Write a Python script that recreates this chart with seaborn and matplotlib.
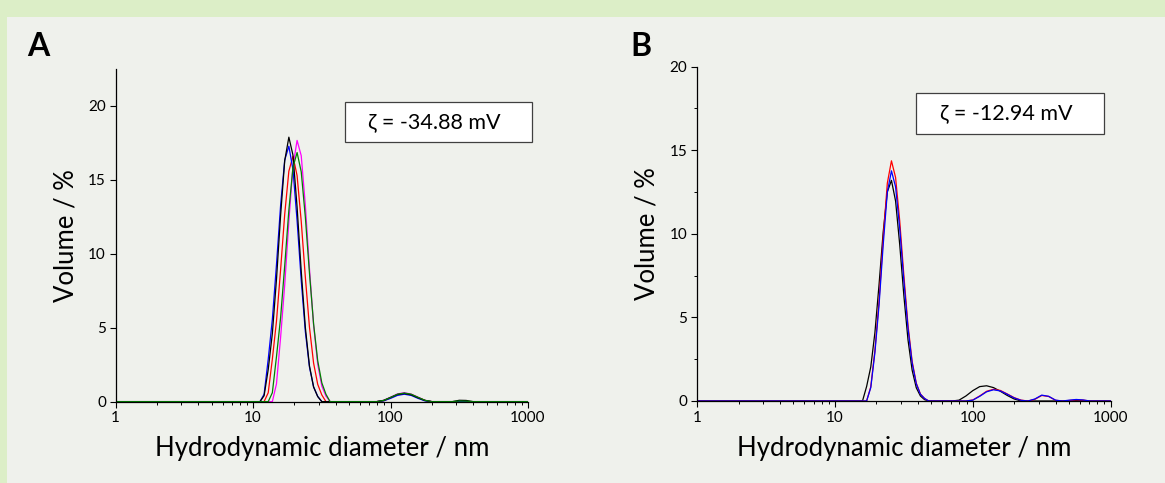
import matplotlib
matplotlib.use('Agg')
import matplotlib.pyplot as plt
from matplotlib.patches import Rectangle
from matplotlib.ticker import FixedLocator, NullFormatter, MultipleLocator
import seaborn as sns
import pandas as pd

# Panel A: diametros (nm) y volumen (%) por medida
DIAM_A = [1, 11.22, 12.02, 12.88, 13.80, 14.79, 15.85, 16.98, 18.20, 19.50, 20.89,
          22.39, 23.99, 25.70, 27.54, 29.51, 31.62, 33.88, 36.31,
          79.43, 89.13, 100.0, 112.2, 125.9, 141.3, 158.5, 177.8, 199.5,
          281.8, 316.2, 354.8, 398.1, 1000]
NEGRO_A = [0, 0, 0.40, 2.17, 4.60, 8.26, 12.60, 16.30, 17.89, 16.67, 13.17,
           8.83, 5.02, 2.42, 0.99, 0.34, 0, 0, 0,
           0, 0.08, 0.28, 0.48, 0.55, 0.46, 0.26, 0.08, 0,
           0, 0.09, 0.08, 0, 0]
AZUL_A = [0, 0, 0.50, 2.87, 5.56, 9.27, 13.28, 16.34, 17.28, 15.69, 12.25,
          8.21, 4.73, 2.34, 1.00, 0.36, 0, 0, 0,
          0, 0.05, 0.22, 0.42, 0.50, 0.42, 0.22, 0.05, 0,
          0, 0, 0, 0, 0]
ROJO_A = [0, 0, 0, 0.60, 2.87, 5.44, 8.93, 12.68, 15.59, 16.60, 15.29,
          12.20, 8.42, 5.04, 2.61, 1.17, 0.45, 0, 0,
          0, 0.06, 0.25, 0.46, 0.55, 0.47, 0.27, 0.08, 0,
          0, 0, 0, 0, 0]
VERDE_A = [0, 0, 0, 0, 0.60, 3.04, 5.68, 9.20, 12.95, 15.85, 16.85,
           15.55, 12.48, 8.70, 5.27, 2.77, 1.27, 0.50, 0,
           0, 0.08, 0.28, 0.50, 0.58, 0.50, 0.29, 0.09, 0,
           0, 0.04, 0.03, 0, 0]
MAGENTA_A = [0, 0, 0, 0, 0, 1.20, 4.35, 7.90, 12.18, 15.93, 17.67,
             16.64, 13.29, 9.01, 5.18, 2.53, 1.05, 0.37, 0,
             0, 0.09, 0.30, 0.52, 0.60, 0.51, 0.30, 0.09, 0,
             0, 0, 0, 0, 0]

# Panel B
DIAM_B = [1, 15.85, 16.98, 18.20, 19.50, 20.89, 22.39, 23.99, 25.70, 27.54, 29.51,
          31.62, 33.88, 36.31, 38.90, 41.69, 44.67, 47.86,
          70.79, 79.43, 89.13, 100.0, 112.2, 125.9, 141.3, 158.5, 177.8, 199.5, 223.9,
          251.2, 281.8, 316.2, 354.8, 398.1, 446.7,
          501.2, 562.3, 631.0, 707.9, 1000]
NEGRO_B = [0, 0, 0.87, 2.04, 4.09, 6.96, 10.11, 12.51, 13.20, 11.96, 9.35,
           6.30, 3.66, 1.84, 0.79, 0.30, 0.08, 0,
           0, 0.05, 0.30, 0.62, 0.86, 0.91, 0.80, 0.58, 0.33, 0.12, 0,
           0, 0, 0, 0, 0, 0,
           0, 0.04, 0.03, 0, 0]
ROJO_B = [0, 0, 0, 0.85, 3.03, 5.98, 9.74, 13.03, 14.37, 13.37, 10.77,
          7.51, 4.53, 2.37, 1.07, 0.42, 0.15, 0,
          0, 0, 0, 0.06, 0.30, 0.58, 0.70, 0.63, 0.42, 0.20, 0.05,
          0, 0.10, 0.33, 0.27, 0.04, 0,
          0.03, 0.07, 0.05, 0, 0]
AZUL_B = [0, 0, 0, 0.80, 2.90, 5.73, 9.33, 12.49, 13.77, 12.81, 10.32,
          7.20, 4.34, 2.27, 1.03, 0.40, 0.15, 0,
          0, 0, 0, 0.05, 0.28, 0.55, 0.67, 0.60, 0.40, 0.18, 0.04,
          0, 0.12, 0.35, 0.28, 0.05, 0,
          0.05, 0.09, 0.06, 0, 0]

ZETA_A = '\u03b6 = -34.88 mV'
ZETA_B = '\u03b6 = -12.94 mV'

VERDE_FONDO = '#DCEEC7'
GRIS_FONDO = '#EFF1EC'

sns.set_style('ticks')
plt.rcParams['font.family'] = ['Lato', 'DejaVu Sans']
plt.rcParams['text.color'] = 'black'
plt.rcParams['axes.labelcolor'] = 'black'


def tabla(diam, series):
    """Construye un DataFrame largo con una fila por punto."""
    filas = []
    for nombre, valores in series:
        for d, v in zip(diam, valores):
            filas.append({'d': d, 'v': v, 'medida': nombre})
    return pd.DataFrame(filas)


def preparar_eje(ax, ymax, minor_y):
    ax.set_facecolor('none')
    ax.set_xscale('log')
    ax.set_xlim(1, 1000)
    ax.set_ylim(0, ymax)
    ax.xaxis.set_major_locator(FixedLocator([1, 10, 100, 1000]))
    ax.set_xticklabels(['1', '10', '100', '1000'])
    ax.xaxis.set_minor_locator(FixedLocator([m * 10 ** e for e in range(3) for m in range(2, 10)]))
    ax.xaxis.set_minor_formatter(NullFormatter())
    ax.yaxis.set_major_locator(FixedLocator([0, 5, 10, 15, 20]))
    if minor_y:
        ax.yaxis.set_minor_locator(MultipleLocator(2.5))
    for s in ['top', 'right']:
        ax.spines[s].set_visible(False)
    for s in ['left', 'bottom']:
        ax.spines[s].set_linewidth(0.9)
        ax.spines[s].set_color('black')
    ax.tick_params(which='major', direction='out', length=4.5, width=0.8,
                   labelsize=11, colors='black', pad=2.5)
    ax.tick_params(which='minor', direction='out', length=2, width=0.7, colors='black')
    ax.set_xlabel('Hydrodynamic diameter / nm', fontsize=18.5, labelpad=8)
    ax.set_ylabel('Volume / %', fontsize=18.5, labelpad=7)


fig = plt.figure(figsize=(11.65, 4.83), dpi=100, facecolor=VERDE_FONDO)
fig.patches.append(Rectangle((7 / 1165, 0), 1, 466 / 483, transform=fig.transFigure,
                             facecolor=GRIS_FONDO, edgecolor='none', zorder=-5))

ax_a = fig.add_axes([0.0993, 0.1685, 0.3539, 0.6886])
ax_b = fig.add_axes([0.5983, 0.1698, 0.3551, 0.6921])

datos_a = tabla(DIAM_A, [('magenta', MAGENTA_A), ('rojo', ROJO_A), ('azul', AZUL_A),
                         ('negro', NEGRO_A), ('verde', VERDE_A)])
sns.lineplot(data=datos_a, x='d', y='v', hue='medida', sort=False, estimator=None,
             palette={'magenta': '#FF00FF', 'rojo': '#FF0000', 'azul': '#0000FF',
                      'negro': '#000000', 'verde': '#008000'},
             linewidth=0.9, legend=False, ax=ax_a)
preparar_eje(ax_a, 22.5, False)

datos_b = tabla(DIAM_B, [('negro', NEGRO_B), ('rojo', ROJO_B), ('azul', AZUL_B)])
sns.lineplot(data=datos_b, x='d', y='v', hue='medida', sort=False, estimator=None,
             palette={'negro': '#000000', 'rojo': '#FF0000', 'azul': '#0000FF'},
             linewidth=0.9, legend=False, ax=ax_b)
preparar_eje(ax_b, 20, True)

# Cajas con el potencial zeta
for (x0, y0, w, h), (tx, ty), texto in [((0.2961, 0.7054, 0.1606, 0.0840), (0.373, 0.7474), ZETA_A),
                                         ((0.7861, 0.7226, 0.1615, 0.0842), (0.864, 0.766), ZETA_B)]:
    fig.patches.append(Rectangle((x0, y0), w, h, transform=fig.transFigure,
                                 facecolor='white', edgecolor='#404040', linewidth=0.9, zorder=3))
    fig.text(tx, ty, texto, fontsize=15.5, ha='center', va='center', zorder=4)

fig.text(38 / 1165, 1 - 47 / 483, 'A', fontsize=23, fontweight='bold', ha='center', va='center')
fig.text(641 / 1165, 1 - 47 / 483, 'B', fontsize=23, fontweight='bold', ha='center', va='center')

fig.savefig('out.png', dpi=100, facecolor=VERDE_FONDO)
